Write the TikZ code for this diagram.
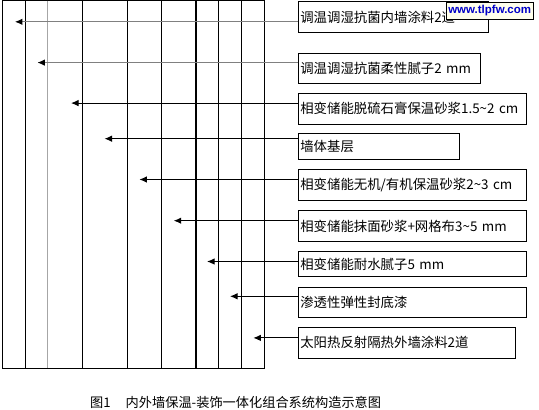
\documentclass[tikz,border=0pt]{standalone}
\usepackage{fontspec}
\setmainfont{Noto Sans CJK SC}
\newfontfamily\webfont{Liberation Sans}
\usepackage{tikz}
\usetikzlibrary{arrows.meta,positioning}
\definecolor{webblue}{RGB}{0,0,200}
\definecolor{webpaper}{RGB}{255,255,236}

\begin{document}
\begin{tikzpicture}[x=1pt, y=-1pt,
    wall line/.style={line width=1pt},
    label box/.style={draw, line width=1pt, anchor=north west, inner xsep=1.5pt, inner ysep=0pt, align=left, font=\fontsize{13.4}{15}\selectfont},
    pointer/.style={line width=1pt, -{Latex[length=7.5pt,width=6.5pt]}},
    light pointer/.style={pointer, draw=gray, -{Latex[length=7.5pt,width=6.5pt,black]}}
]
\useasboundingbox (0,0) rectangle (539,410);

% wall section
\draw[wall line] (2.8,0.5) rectangle (264,368);
\foreach \x in {82,127.7,161.6,218.7}
    \draw[wall line] (\x,0.5) -- (\x,368);
\foreach \x in {25.3,195.8,241.2}
    \draw[line width=1.4pt] (\x,0.5) -- (\x,368);
\draw[wall line, gray!70] (47.8,0.5) -- (47.8,368);

% layer labels
\node[label box, text width=186.7pt, minimum height=30.8pt] (l1) at (298.3,1) {调温调湿抗菌内墙涂料2道};
\node[label box, text width=179pt, minimum height=30.1pt] (l2) at (298.3,52.6) {调温调湿抗菌柔性腻子2 mm};
\node[label box, text width=224.7pt, minimum height=30.8pt] (l3) at (298.3,92.7) {相变储能脱硫石膏保温砂浆1.5\textasciitilde2 cm};
\node[label box, text width=157.2pt, minimum height=25.8pt] (l4) at (298.3,132.9) {墙体基层};
\node[label box, text width=224.7pt, minimum height=31pt] (l5) at (298.3,169.1) {相变储能无机/有机保温砂浆2\textasciitilde3 cm};
\node[label box, text width=224.7pt, minimum height=30.4pt] (l6) at (298.3,210.3) {相变储能抹面砂浆+网格布3\textasciitilde5 mm};
\node[label box, text width=224.7pt, minimum height=25.5pt] (l7) at (298.3,250.8) {相变储能耐水腻子5 mm};
\node[label box, text width=224.7pt, minimum height=30.5pt] (l8) at (298.3,286.6) {渗透性弹性封底漆};
\node[label box, text width=213.2pt, minimum height=31.1pt] (l9) at (298.3,326.8) {太阳热反射隔热外墙涂料2道};

% arrow tips in the layers
\coordinate (t1) at (14.9,21.8);
\coordinate (t2) at (37.4,62.6);
\coordinate (t3) at (71,103.1);
\coordinate (t4) at (104.5,138.7);
\coordinate (t5) at (139.4,179.5);
\coordinate (t6) at (173.7,220.7);
\coordinate (t7) at (207,261.5);
\coordinate (t8) at (230,296.3);
\coordinate (t9) at (253.3,337.9);

\draw[light pointer] (t1 -| l1.west) -- (t1);
\draw[light pointer] (t2 -| l2.west) -- (t2);
\foreach \i in {3,...,9}
    \draw[pointer] (t\i -| l\i.west) -- (t\i);

% watermark
\node[draw, fill=webpaper, anchor=north west, minimum width=87pt, minimum height=17pt, inner sep=0pt,
      text=webblue, font=\webfont\bfseries\fontsize{11.5}{12}\selectfont] (mark) at (446,1.5) {www.tlpfw.com};

% caption
\node[anchor=west, inner sep=0pt, font=\fontsize{13.2}{15}\selectfont] (caption) at (90,402)
    {图1\hspace{15pt}内外墙保温-装饰一体化组合系统构造示意图};
\end{tikzpicture}
\end{document}
